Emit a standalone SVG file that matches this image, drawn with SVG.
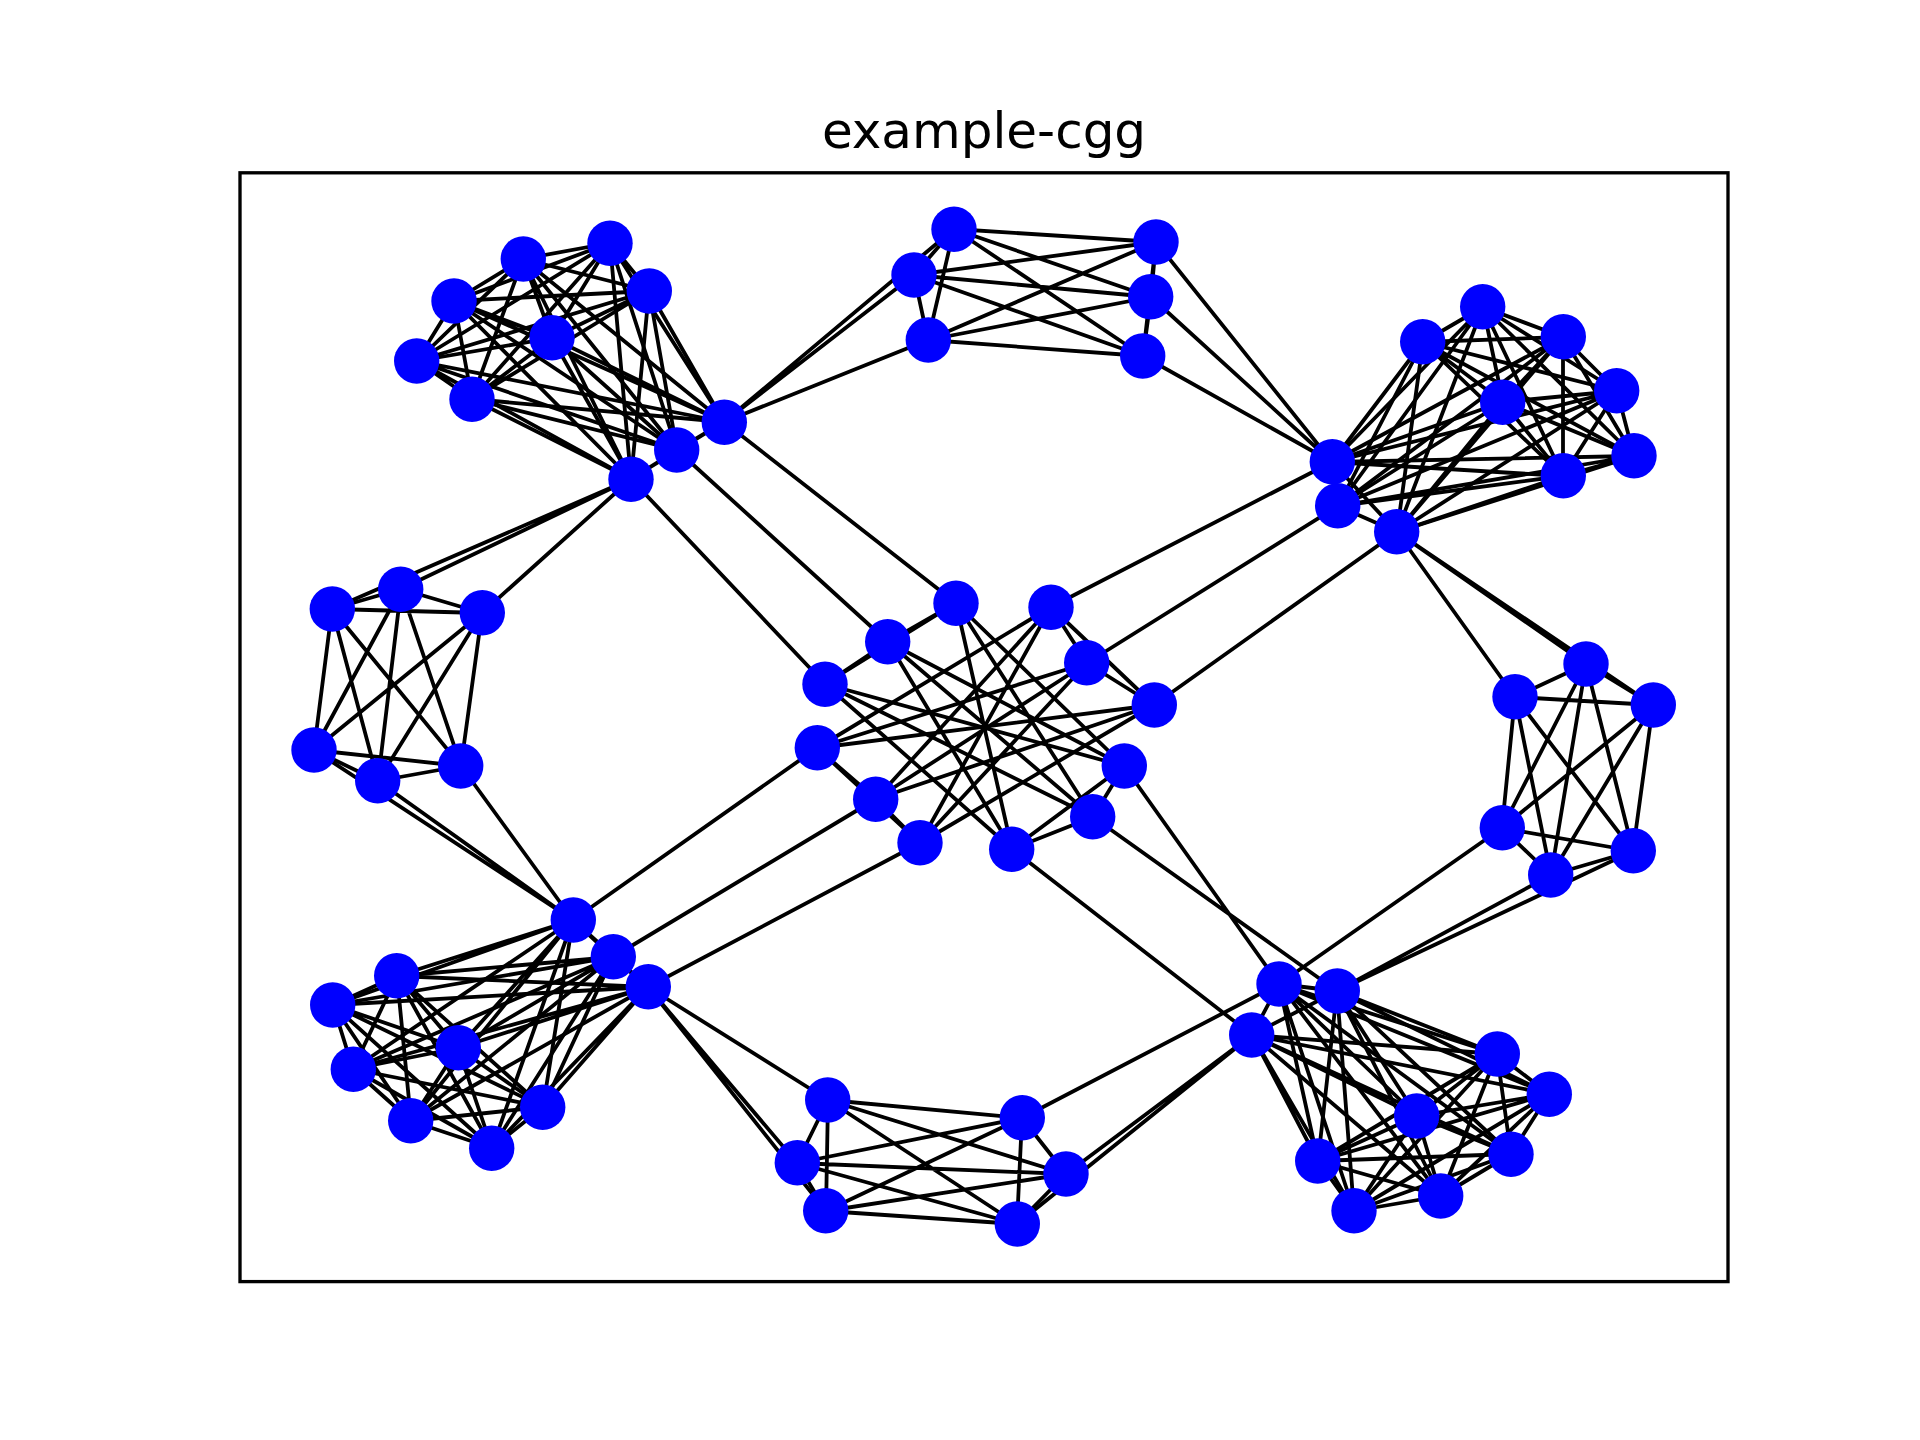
<svg xmlns="http://www.w3.org/2000/svg" width="1920" height="1440" viewBox="0 0 1920 1440">
<style>
.e{fill:none;stroke:#000;stroke-width:3.8;stroke-linecap:butt}
.n{fill:#0000ff}
.t{font-family:"DejaVu Sans",sans-serif;font-size:50px;fill:#000}
</style>
<rect x="0" y="0" width="1920" height="1440" fill="#fff"/>
<text class="t" x="984" y="147.8" text-anchor="middle">example-cgg</text>
<g id="connectors">
<path class="e" d="M523 259L610 243M523 259L454 301M523 259L649 291M523 259L552 338M523 259L417 361M523 259L472 399M523 259L724 422M523 259L677 450M523 259L631 479"/>
<path class="e" d="M610 243L454 301M610 243L649 291M610 243L552 338M610 243L417 361M610 243L472 399M610 243L724 422M610 243L677 450M610 243L631 479"/>
<path class="e" d="M454 301L649 291M454 301L552 338M454 301L417 361M454 301L472 399M454 301L724 422M454 301L677 450M454 301L631 479"/>
<path class="e" d="M649 291L552 338M649 291L417 361M649 291L472 399M649 291L724 422M649 291L677 450M649 291L631 479"/>
<path class="e" d="M552 338L417 361M552 338L472 399M552 338L724 422M552 338L677 450M552 338L631 479"/>
<path class="e" d="M417 361L472 399M417 361L724 422M417 361L677 450M417 361L631 479"/>
<path class="e" d="M472 399L724 422M472 399L677 450M472 399L631 479"/>
<path class="e" d="M724 422L677 450M724 422L631 479M677 450L631 479"/>
<path class="e" d="M1483 307L1423 342M1483 307L1563 337M1483 307L1617 391M1483 307L1503 402M1483 307L1634 456M1483 307L1563 476M1483 307L1332 462M1483 307L1338 506M1483 307L1397 532"/>
<path class="e" d="M1423 342L1563 337M1423 342L1617 391M1423 342L1503 402M1423 342L1634 456M1423 342L1563 476M1423 342L1332 462M1423 342L1338 506M1423 342L1397 532"/>
<path class="e" d="M1563 337L1617 391M1563 337L1503 402M1563 337L1634 456M1563 337L1563 476M1563 337L1332 462M1563 337L1338 506M1563 337L1397 532"/>
<path class="e" d="M1617 391L1503 402M1617 391L1634 456M1617 391L1563 476M1617 391L1332 462M1617 391L1338 506M1617 391L1397 532"/>
<path class="e" d="M1503 402L1634 456M1503 402L1563 476M1503 402L1332 462M1503 402L1338 506M1503 402L1397 532"/>
<path class="e" d="M1634 456L1563 476M1634 456L1332 462M1634 456L1338 506M1634 456L1397 532"/>
<path class="e" d="M1563 476L1332 462M1563 476L1338 506M1563 476L1397 532"/>
<path class="e" d="M1332 462L1338 506M1332 462L1397 532M1338 506L1397 532"/>
<path class="e" d="M573 920L613 957M573 920L648 987M573 920L397 976M573 920L333 1005M573 920L458 1048M573 920L353 1069M573 920L543 1107M573 920L411 1121M573 920L492 1148"/>
<path class="e" d="M613 957L648 987M613 957L397 976M613 957L333 1005M613 957L458 1048M613 957L353 1069M613 957L543 1107M613 957L411 1121M613 957L492 1148"/>
<path class="e" d="M648 987L397 976M648 987L333 1005M648 987L458 1048M648 987L353 1069M648 987L543 1107M648 987L411 1121M648 987L492 1148"/>
<path class="e" d="M397 976L333 1005M397 976L458 1048M397 976L353 1069M397 976L543 1107M397 976L411 1121M397 976L492 1148"/>
<path class="e" d="M333 1005L458 1048M333 1005L353 1069M333 1005L543 1107M333 1005L411 1121M333 1005L492 1148"/>
<path class="e" d="M458 1048L353 1069M458 1048L543 1107M458 1048L411 1121M458 1048L492 1148"/>
<path class="e" d="M353 1069L543 1107M353 1069L411 1121M353 1069L492 1148"/>
<path class="e" d="M543 1107L411 1121M543 1107L492 1148M411 1121L492 1148"/>
<path class="e" d="M1279 984L1337 991M1279 984L1252 1035M1279 984L1497 1054M1279 984L1549 1094M1279 984L1417 1116M1279 984L1511 1154M1279 984L1318 1161M1279 984L1441 1196M1279 984L1354 1211"/>
<path class="e" d="M1337 991L1252 1035M1337 991L1497 1054M1337 991L1549 1094M1337 991L1417 1116M1337 991L1511 1154M1337 991L1318 1161M1337 991L1441 1196M1337 991L1354 1211"/>
<path class="e" d="M1252 1035L1497 1054M1252 1035L1549 1094M1252 1035L1417 1116M1252 1035L1511 1154M1252 1035L1318 1161M1252 1035L1441 1196M1252 1035L1354 1211"/>
<path class="e" d="M1497 1054L1549 1094M1497 1054L1417 1116M1497 1054L1511 1154M1497 1054L1318 1161M1497 1054L1441 1196M1497 1054L1354 1211"/>
<path class="e" d="M1549 1094L1417 1116M1549 1094L1511 1154M1549 1094L1318 1161M1549 1094L1441 1196M1549 1094L1354 1211"/>
<path class="e" d="M1417 1116L1511 1154M1417 1116L1318 1161M1417 1116L1441 1196M1417 1116L1354 1211"/>
<path class="e" d="M1511 1154L1318 1161M1511 1154L1441 1196M1511 1154L1354 1211"/>
<path class="e" d="M1318 1161L1441 1196M1318 1161L1354 1211M1441 1196L1354 1211"/>
<path class="e" d="M954 229L914 275M954 229L928 340M954 229L1156 242M954 229L1151 297M954 229L1143 356M914 275L928 340M914 275L1156 242M914 275L1151 297M914 275L1143 356M928 340L1156 242M928 340L1151 297M928 340L1143 356M1156 242L1151 297M1156 242L1143 356M1151 297L1143 356"/>
<path class="e" d="M332 609L401 589M332 609L482 613M332 609L314 750M332 609L378 781M332 609L461 766M401 589L482 613M401 589L314 750M401 589L378 781M401 589L461 766M482 613L314 750M482 613L378 781M482 613L461 766M314 750L378 781M314 750L461 766M378 781L461 766"/>
<path class="e" d="M1586 664L1515 697M1586 664L1653 705M1586 664L1502 828M1586 664L1633 851M1586 664L1551 875M1515 697L1653 705M1515 697L1502 828M1515 697L1633 851M1515 697L1551 875M1653 705L1502 828M1653 705L1633 851M1653 705L1551 875M1502 828L1633 851M1502 828L1551 875M1633 851L1551 875"/>
<path class="e" d="M828 1100L797 1163M828 1100L826 1211M828 1100L1022 1118M828 1100L1066 1174M828 1100L1017 1224M797 1163L826 1211M797 1163L1022 1118M797 1163L1066 1174M797 1163L1017 1224M826 1211L1022 1118M826 1211L1066 1174M826 1211L1017 1224M1022 1118L1066 1174M1022 1118L1017 1224M1066 1174L1017 1224"/>
<path class="e" d="M956 603L888 642M888 642L825 684M956 603L825 684M1051 607L1087 663M1087 663L1154 705M1051 607L1154 705M817 748L876 799M876 799L920 843M817 748L920 843M1124 766L1093 817M1093 817L1012 849M1124 766L1012 849"/>
<path class="e" d="M956 603L1124 766M956 603L1093 817M956 603L1012 849M888 642L1124 766M888 642L1093 817M888 642L1012 849M825 684L1124 766M825 684L1093 817M825 684L1012 849"/>
<path class="e" d="M1051 607L817 748M1051 607L876 799M1051 607L920 843M1087 663L817 748M1087 663L876 799M1087 663L920 843M1154 705L817 748M1154 705L876 799M1154 705L920 843"/>
<path class="e" d="M724 422L954 229M724 422L914 275M724 422L928 340M631 479L332 609M631 479L401 589M631 479L482 613M724 422L956 603M677 450L888 642M631 479L825 684"/>
<path class="e" d="M1332 462L1156 242M1332 462L1151 297M1332 462L1143 356M1397 532L1586 664M1397 532L1515 697M1397 532L1653 705M1332 462L1051 607M1338 506L1087 663M1397 532L1154 705"/>
<path class="e" d="M573 920L314 750M573 920L378 781M573 920L461 766M648 987L828 1100M648 987L797 1163M648 987L826 1211M573 920L817 748M613 957L876 799M648 987L920 843"/>
<path class="e" d="M1279 984L1022 1118M1252 1035L1066 1174M1252 1035L1017 1224M1279 984L1502 828M1337 991L1633 851M1337 991L1551 875M1279 984L1124 766M1337 991L1093 817M1252 1035L1012 849"/>
</g>
<g id="nodes">
<g id="A"><circle class="n" cx="523.3" cy="259" r="22.7"/><circle class="n" cx="610" cy="243.3" r="22.7"/><circle class="n" cx="454" cy="301" r="22.7"/><circle class="n" cx="649.3" cy="291" r="22.7"/><circle class="n" cx="552" cy="337.7" r="22.7"/><circle class="n" cx="416.7" cy="361" r="22.7"/><circle class="n" cx="472" cy="399.3" r="22.7"/><circle class="n" cx="724.3" cy="422.3" r="22.7"/><circle class="n" cx="676.7" cy="450" r="22.7"/><circle class="n" cx="631" cy="479.3" r="22.7"/></g>
<g id="B"><circle class="n" cx="954" cy="229.3" r="22.7"/><circle class="n" cx="914" cy="275" r="22.7"/><circle class="n" cx="928.3" cy="340" r="22.7"/><circle class="n" cx="1156" cy="242" r="22.7"/><circle class="n" cx="1150.7" cy="296.7" r="22.7"/><circle class="n" cx="1142.7" cy="356" r="22.7"/></g>
<g id="C"><circle class="n" cx="1482.7" cy="306.7" r="22.7"/><circle class="n" cx="1422.7" cy="341.7" r="22.7"/><circle class="n" cx="1563.3" cy="336.7" r="22.7"/><circle class="n" cx="1616.7" cy="390.7" r="22.7"/><circle class="n" cx="1502.7" cy="402.3" r="22.7"/><circle class="n" cx="1634" cy="455.7" r="22.7"/><circle class="n" cx="1563.3" cy="475.7" r="22.7"/><circle class="n" cx="1332.3" cy="461.7" r="22.7"/><circle class="n" cx="1337.7" cy="505.7" r="22.7"/><circle class="n" cx="1396.7" cy="531.7" r="22.7"/></g>
<g id="D"><circle class="n" cx="332.3" cy="609" r="22.7"/><circle class="n" cx="400.7" cy="589.3" r="22.7"/><circle class="n" cx="482.3" cy="612.7" r="22.7"/><circle class="n" cx="314" cy="750" r="22.7"/><circle class="n" cx="377.7" cy="780.7" r="22.7"/><circle class="n" cx="460.7" cy="766" r="22.7"/></g>
<g id="E"><circle class="n" cx="956" cy="603.3" r="22.7"/><circle class="n" cx="1051" cy="607.3" r="22.7"/><circle class="n" cx="887.7" cy="641.7" r="22.7"/><circle class="n" cx="1086.7" cy="662.7" r="22.7"/><circle class="n" cx="825" cy="684.3" r="22.7"/><circle class="n" cx="1154.3" cy="705" r="22.7"/><circle class="n" cx="817.3" cy="747.7" r="22.7"/><circle class="n" cx="1124.3" cy="766" r="22.7"/><circle class="n" cx="875.7" cy="799.3" r="22.7"/><circle class="n" cx="1092.7" cy="816.7" r="22.7"/><circle class="n" cx="920" cy="842.7" r="22.7"/><circle class="n" cx="1011.7" cy="849.3" r="22.7"/></g>
<g id="F"><circle class="n" cx="1586" cy="664" r="22.7"/><circle class="n" cx="1515" cy="696.7" r="22.7"/><circle class="n" cx="1653.3" cy="705" r="22.7"/><circle class="n" cx="1502.3" cy="827.7" r="22.7"/><circle class="n" cx="1633.3" cy="850.7" r="22.7"/><circle class="n" cx="1550.7" cy="875" r="22.7"/></g>
<g id="G"><circle class="n" cx="573.3" cy="920" r="22.7"/><circle class="n" cx="613.3" cy="956.7" r="22.7"/><circle class="n" cx="648.3" cy="986.7" r="22.7"/><circle class="n" cx="396.7" cy="975.7" r="22.7"/><circle class="n" cx="332.7" cy="1005" r="22.7"/><circle class="n" cx="458.3" cy="1047.7" r="22.7"/><circle class="n" cx="353.3" cy="1069.3" r="22.7"/><circle class="n" cx="542.7" cy="1107.3" r="22.7"/><circle class="n" cx="410.7" cy="1120.7" r="22.7"/><circle class="n" cx="491.7" cy="1148.3" r="22.7"/></g>
<g id="H"><circle class="n" cx="827.7" cy="1100" r="22.7"/><circle class="n" cx="797.3" cy="1162.7" r="22.7"/><circle class="n" cx="825.7" cy="1210.7" r="22.7"/><circle class="n" cx="1022.3" cy="1117.7" r="22.7"/><circle class="n" cx="1066" cy="1174" r="22.7"/><circle class="n" cx="1017.3" cy="1224" r="22.7"/></g>
<g id="I"><circle class="n" cx="1279" cy="984" r="22.7"/><circle class="n" cx="1337.3" cy="991" r="22.7"/><circle class="n" cx="1251.7" cy="1035" r="22.7"/><circle class="n" cx="1497.3" cy="1054" r="22.7"/><circle class="n" cx="1549.3" cy="1094.3" r="22.7"/><circle class="n" cx="1416.7" cy="1116" r="22.7"/><circle class="n" cx="1511" cy="1154.3" r="22.7"/><circle class="n" cx="1317.7" cy="1161" r="22.7"/><circle class="n" cx="1440.7" cy="1196" r="22.7"/><circle class="n" cx="1354" cy="1210.7" r="22.7"/></g>
</g>
<rect x="240" y="172.8" width="1488" height="1108.8" fill="none" stroke="#000" stroke-width="3.33"/>
</svg>
